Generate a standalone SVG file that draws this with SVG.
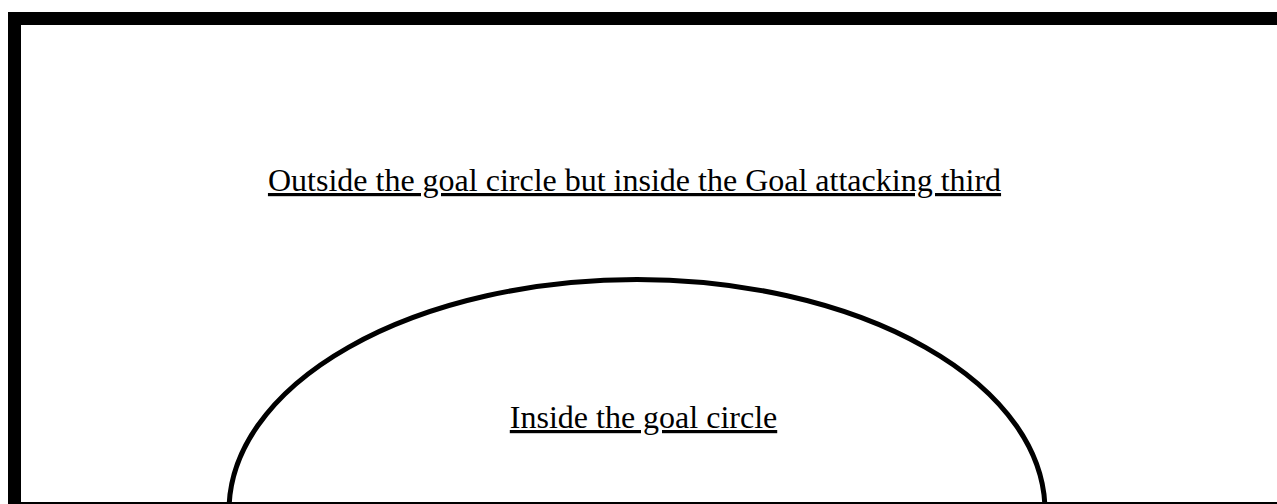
<svg xmlns="http://www.w3.org/2000/svg" width="1277" height="504" viewBox="0 0 1277 504">
<style>
.lbl{font-family:"Liberation Serif","Times New Roman",serif;font-size:32px;fill:#000;text-anchor:middle;text-decoration:underline}
</style>
<rect x="0" y="0" width="1277" height="504" fill="#fff"/>
<g id="field">
<rect x="14.5" y="18.5" width="1300" height="490" fill="none" stroke="#000" stroke-width="13"/>
</g>
<g id="goal-circle">
<ellipse cx="637" cy="511" rx="408" ry="231.5" fill="none" stroke="#000" stroke-width="5"/>
</g>
<g id="labels">
<text id="outside" class="lbl" x="634.5" y="191">Outside the goal circle but inside the Goal attacking third</text>
<text id="inside" class="lbl" x="643.5" y="428">Inside the goal circle</text>
</g>
</svg>
